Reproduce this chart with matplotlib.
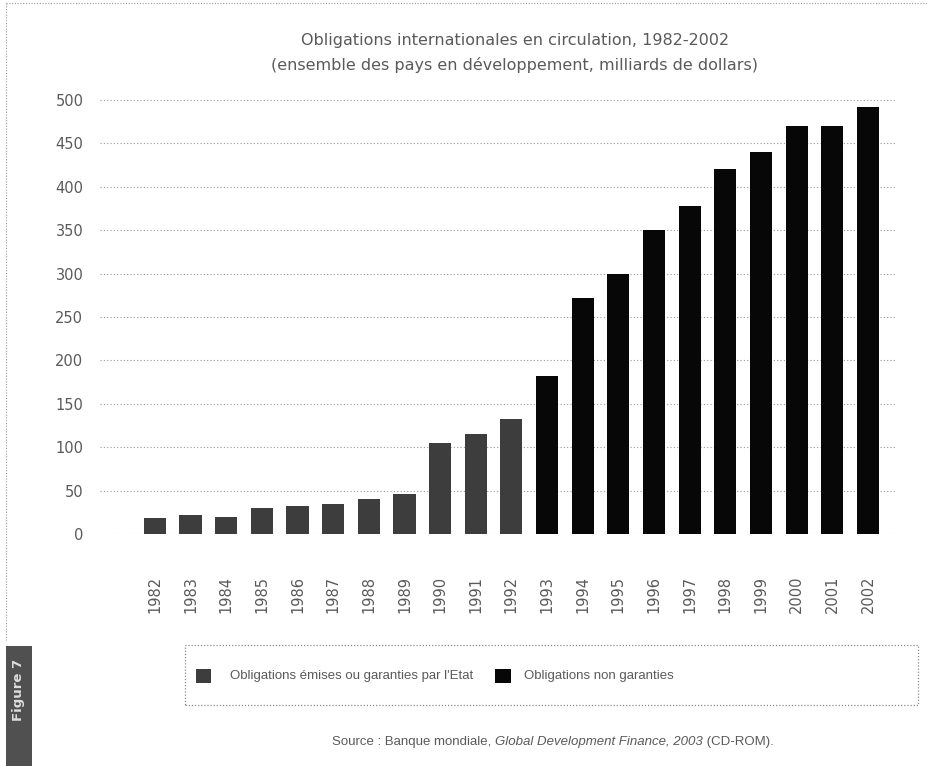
import matplotlib
matplotlib.use("Agg")
import matplotlib.pyplot as plt
from matplotlib.patches import Rectangle
from matplotlib.lines import Line2D
import numpy as np

years = [str(y) for y in range(1982, 2003)]
# Obligations émises ou garanties par l'Etat (dithered grey bars in the scan)
state_bonds = [18, 22, 20, 30, 32, 35, 40, 46, 105, 115, 132,
               0, 0, 0, 0, 0, 0, 0, 0, 0, 0]
# Obligations non garanties (solid black bars)
private_bonds = [0, 0, 0, 0, 0, 0, 0, 0, 0, 0, 0,
                 182, 272, 300, 350, 378, 420, 440, 470, 470, 492]
yticks = [0, 50, 100, 150, 200, 250, 300, 350, 400, 450, 500]

title1 = "Obligations internationales en circulation, 1982-2002"
title2 = "(ensemble des pays en développement, milliards de dollars)"
legend_labels = ["Obligations émises ou garanties par l'Etat", "Obligations non garanties"]

grey_c = "#3d3d3d"
black_c = "#070707"
text_c = "#5a5a5a"
leg_font = ["Liberation Sans", "DejaVu Sans"]

W, H = 928, 766
fig = plt.figure(figsize=(W / 100, H / 100), dpi=100)
fig.patch.set_facecolor("white")

ax = fig.add_axes([100 / W, (H - 534) / H, 795 / W, 434 / H])
x = np.arange(len(years))
ax.bar(x, state_bonds, width=0.62, color=grey_c, zorder=3)
ax.bar(x, private_bonds, bottom=state_bonds, width=0.62, color=black_c, zorder=3)
ax.set_xlim(-1.54, 20.76)
ax.set_ylim(0, 500)
ax.set_yticks(yticks)
ax.set_yticklabels([str(v) for v in yticks], fontsize=10.5, color=text_c)
ax.set_xticks(x)
ax.set_xticklabels(years, rotation=90, fontsize=10.5, color=text_c)
ax.tick_params(axis="x", length=0, pad=30)
ax.tick_params(axis="y", length=0, pad=12)
for s in ax.spines.values():
    s.set_visible(False)
ax.yaxis.grid(True, linestyle=(0, (1, 2)), color="#9a9a9a", linewidth=0.8, zorder=0)
ax.set_axisbelow(True)

# Title
fig.text(515 / W, 1 - 40 / H, title1, ha="center", va="center", fontsize=11.5, color=text_c)
fig.text(515 / W, 1 - 65 / H, title2, ha="center", va="center", fontsize=11.5, color=text_c)

# Legend box
lx0, lx1, ly0, ly1 = 185, 918, 645, 705
fig.add_artist(Rectangle((lx0 / W, 1 - ly1 / H), (lx1 - lx0) / W, (ly1 - ly0) / H,
                         transform=fig.transFigure, fill=False, edgecolor="#888888",
                         linestyle=(0, (1, 1.5)), linewidth=0.9))
fig.add_artist(Rectangle((196 / W, 1 - 683 / H), 15 / W, 14 / H, transform=fig.transFigure,
                         facecolor=grey_c, edgecolor="none"))
fig.text(230 / W, 1 - 676 / H, legend_labels[0], ha="left", va="center", fontsize=9.5,
         color=text_c, family=leg_font)
fig.add_artist(Rectangle((495 / W, 1 - 683 / H), 16 / W, 14 / H, transform=fig.transFigure,
                         facecolor=black_c, edgecolor="none"))
fig.text(524 / W, 1 - 676 / H, legend_labels[1], ha="left", va="center", fontsize=9.5,
         color=text_c, family=leg_font)

# Source line with italic part
renderer = fig.canvas.get_renderer()
parts = [("Source : Banque mondiale, ", "normal"),
         ("Global Development Finance, 2003", "italic"),
         (" (CD-ROM).", "normal")]
objs = []
widths = []
for s, st in parts:
    t = fig.text(0, 1 - 742 / H, s, ha="left", va="center", fontsize=9.5, color=text_c,
                 style=st, family=leg_font)
    objs.append(t)
    widths.append(t.get_window_extent(renderer).width)
total = sum(widths)
xs = 553 - total / 2
for t, w in zip(objs, widths):
    t.set_x(xs / W)
    xs += w

# Figure 7 side label
fig.add_artist(Rectangle((6 / W, 0), 26 / W, 120 / H, transform=fig.transFigure,
                         facecolor="#505050", edgecolor="none"))
fig.text(19 / W, 1 - 690 / H, "Figure 7", rotation=90, ha="center", va="center",
         fontsize=9.5, color="#dddddd", fontweight="bold")

# Outer dotted frame (scan page border)
fig.add_artist(Line2D([6 / W, 1], [1 - 3 / H, 1 - 3 / H], transform=fig.transFigure,
                      color="#999999", linestyle=(0, (1, 1.5)), linewidth=0.8))
fig.add_artist(Line2D([6 / W, 6 / W], [1 - 3 / H, 1 - 640 / H], transform=fig.transFigure,
                      color="#999999", linestyle=(0, (1, 1.5)), linewidth=0.8))

fig.savefig("out.png", dpi=100, facecolor="white")
